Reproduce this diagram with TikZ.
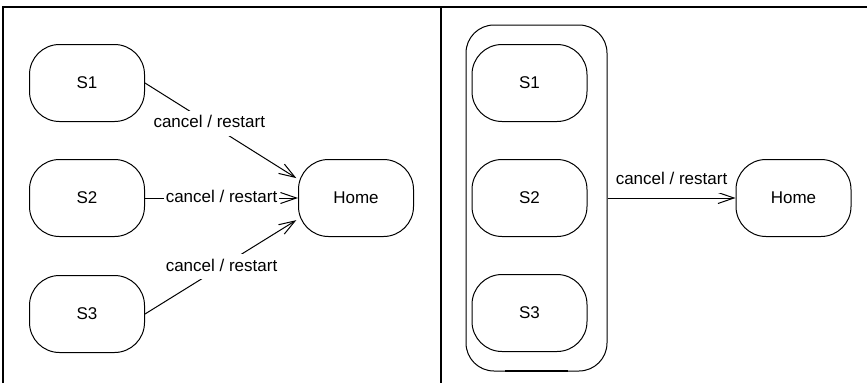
\documentclass[tikz,border=0pt]{standalone}
\usepackage{fontspec}
\setmainfont{Liberation Sans}
\usetikzlibrary{arrows.meta}

\begin{document}
\begin{tikzpicture}[
  x=1pt, y=-1pt,
  state/.style={rectangle, draw, line width=1pt, rounded corners=30pt, minimum width=115pt, minimum height=77pt, font=\fontsize{17}{20}\selectfont},
  superstate/.style={rectangle, draw, line width=1pt, rounded corners=28pt, minimum width=141pt, minimum height=346pt},
  trans/.style={-{Straight Barb[length=16pt,width=11pt]}, line width=1pt},
  event/.style={fill=white, inner xsep=2pt, inner ysep=4pt, text height=13pt, text depth=4pt, font=\fontsize{17}{20}\selectfont},
  frame/.style={line width=2pt},
]
  \useasboundingbox (0,0) rectangle (867,383);

  % table lines
  \draw[frame] (3,383) -- (3,7) -- (867,7);
  \draw[frame] (441,7) -- (441,383);

  % left: one transition per state
  \node[state] (s1) at (87, 83) {S1};
  \node[state] (s2) at (87, 198) {S2};
  \node[state] (s3) at (87, 314) {S3};
  \node[state] (home) at (356, 198) {Home};

  \draw[trans, shorten >=2pt] (s1.east) -- node[event, pos=0.42] (l1) {cancel / restart} (home.162);
  \draw[trans] (s2) -- node[event] (l2) {cancel / restart} (home);
  \draw[trans, shorten >=2pt] (s3.east) -- node[event, pos=0.5] (l3) {cancel / restart} (home.200);

  % right: superstate
  \node[superstate] (group) at (536.5, 198) {};
  \draw[line width=2pt] (505,371) -- (568,371);
  \node[state] (t1) at (529.5, 83) {S1};
  \node[state] (t2) at (529.5, 198) {S2};
  \node[state] (t3) at (529.5, 313) {S3};
  \node[state] (home2) at (793.5, 198) {Home};

  \draw[trans] (group) -- node[event, above=5pt] (l4) {cancel / restart} (home2);
\end{tikzpicture}
\end{document}
